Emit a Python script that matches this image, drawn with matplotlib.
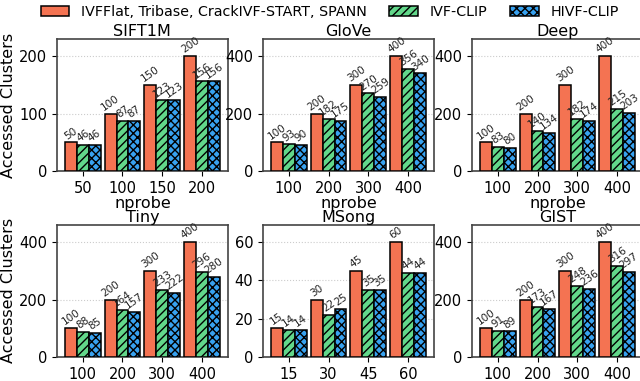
import matplotlib
matplotlib.use("Agg")
import matplotlib.pyplot as plt
import numpy as np

plt.rcParams['hatch.linewidth'] = 1.0

datasets = ["SIFT1M", "GloVe", "Deep", "Tiny", "MSong", "GIST"]
nprobe_ticks = [
    ["50", "100", "150", "200"],
    ["100", "200", "300", "400"],
    ["100", "200", "300", "400"],
    ["100", "200", "300", "400"],
    ["15", "30", "45", "60"],
    ["100", "200", "300", "400"],
]
baseline = [
    [50, 100, 150, 200],
    [100, 200, 300, 400],
    [100, 200, 300, 400],
    [100, 200, 300, 400],
    [15, 30, 45, 60],
    [100, 200, 300, 400],
]
ivf_clip = [
    [46, 87, 123, 156],
    [93, 182, 270, 356],
    [83, 140, 182, 215],
    [88, 164, 233, 296],
    [14, 22, 35, 44],
    [91, 173, 248, 316],
]
hivf_clip = [
    [46, 87, 123, 156],
    [90, 175, 259, 340],
    [80, 134, 174, 203],
    [85, 157, 222, 280],
    [14, 25, 35, 44],
    [89, 167, 236, 297],
]
yticks = [
    [0, 100, 200],
    [0, 200, 400],
    [0, 200, 400],
    [0, 200, 400],
    [0, 20, 40, 60],
    [0, 200, 400],
]
series_names = ["IVFFlat, Tribase, CrackIVF-START, SPANN", "IVF-CLIP", "HIVF-CLIP"]
colors = ["#F47352", "#62D78A", "#38A2F0"]
hatches = ["", "////", "xxxx"]

fig = plt.figure(figsize=(6.4, 3.81), dpi=100)
lefts = [0.089, 0.411, 0.7375]
bottoms = [0.551, 0.063]
w, h = 0.267, 0.347

width = 0.3
handles = []
for i, name in enumerate(datasets):
    r, c = divmod(i, 3)
    ax = fig.add_axes([lefts[c], bottoms[r], w, h])
    x = np.arange(4)
    series = [baseline[i], ivf_clip[i], hivf_clip[i]]
    ymax = max(baseline[i])
    for k in range(3):
        bars = ax.bar(x + (k - 1) * width, series[k], width, color=colors[k],
                      hatch=hatches[k], edgecolor="black", linewidth=1.1,
                      label=series_names[k], zorder=3)
        if i == 0:
            handles.append(bars)
        for xi, v in zip(x + (k - 1) * width, series[k]):
            ax.text(xi, v + ymax * 0.01, str(v), rotation=35, ha="center",
                    va="bottom", fontsize=7.5, color="#222222", zorder=4)
    ax.set_ylim(0, ymax * 1.15)
    ax.set_yticks(yticks[i])
    ax.set_xticks(x)
    ax.set_xticklabels(nprobe_ticks[i])
    ax.tick_params(labelsize=10.5, length=3.5)
    ax.set_title(name, fontsize=11.5, pad=2)
    ax.set_xlabel("nprobe", fontsize=11.5, labelpad=0)
    ax.grid(axis="y", linestyle=":", color="#cccccc", linewidth=0.8, zorder=0)
    for s in ax.spines.values():
        s.set_color("#444444")
        s.set_linewidth(1.2)
    if c == 0:
        ax.set_ylabel("Accessed Clusters", fontsize=11.5, labelpad=2)

fig.legend(handles=handles, labels=series_names, loc="upper center",
           bbox_to_anchor=(0.515, 1.02), ncol=3, frameon=False, fontsize=10.3,
           handlelength=2.0, handleheight=0.7, columnspacing=1.6, handletextpad=0.8)

fig.savefig("out.png", dpi=100)
